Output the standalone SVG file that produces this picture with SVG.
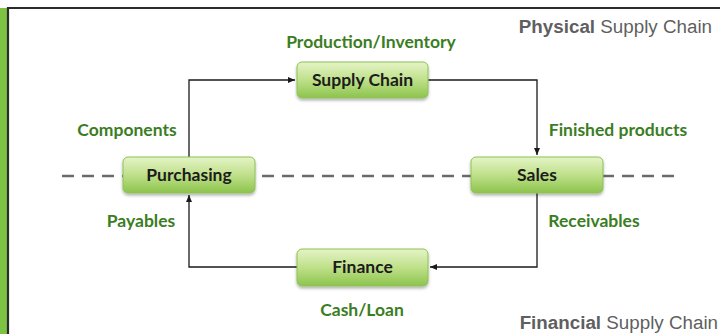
<svg xmlns="http://www.w3.org/2000/svg" width="720" height="334" viewBox="0 0 720 334">
<style>
.box{fill:url(#g);stroke:#8fc057;stroke-width:1}
.bt{font-family:Lato,"Open Sans",sans-serif;font-weight:bold;font-size:17.5px;fill:#1c1c1c;text-anchor:middle}
.lb{font-family:Lato,"Open Sans",sans-serif;font-weight:bold;font-size:17.5px;fill:#3b7d23}
.gr{font-family:"Liberation Sans",Arial,sans-serif;font-size:18.8px;fill:#5f5f5f}
.ln{fill:none;stroke:#1a1a1a;stroke-width:1.3}
</style>
<defs>
<linearGradient id="g" x1="0" y1="0" x2="0" y2="1">
<stop offset="0" stop-color="#e4f4c6"/>
<stop offset="0.5" stop-color="#bfe08a"/>
<stop offset="1" stop-color="#8cc44c"/>
</linearGradient>
<filter id="sh" x="-10%" y="-10%" width="120%" height="140%">
<feDropShadow dx="0" dy="2" stdDeviation="1.5" flood-color="#000" flood-opacity="0.3"/>
</filter>
<marker id="a" markerWidth="8" markerHeight="8" refX="7" refY="4" orient="auto" markerUnits="userSpaceOnUse">
<path d="M0,1 L7,4 L0,7 Z" fill="#1a1a1a"/>
</marker>
</defs>
<rect width="720" height="334" fill="#fff"/>
<rect x="0" y="8" width="7" height="326" fill="#7dc242"/>
<path d="M8,334 V8 H720" fill="none" stroke="#2b2b2b" stroke-width="2.2"/>
<line x1="62" y1="176" x2="678" y2="176" stroke="#6a6a6a" stroke-width="2.5" stroke-dasharray="12,8"/>
<g id="connectors">
<path class="ln" d="M189,157 V80 H295" marker-end="url(#a)"/>
<path class="ln" d="M428,80 H537 V155" marker-end="url(#a)"/>
<path class="ln" d="M537,193 V267 H430" marker-end="url(#a)"/>
<path class="ln" d="M297,267 H189 V195" marker-end="url(#a)"/>
</g>
<g id="supply-chain">
<rect class="box" x="297" y="62" width="131" height="36" rx="5" filter="url(#sh)"/>
<text class="bt" x="362.5" y="86">Supply Chain</text>
</g>
<g id="purchasing">
<rect class="box" x="123" y="157" width="132" height="36" rx="5" filter="url(#sh)"/>
<text class="bt" x="189" y="181">Purchasing</text>
</g>
<g id="sales">
<rect class="box" x="471" y="157" width="132" height="36" rx="5" filter="url(#sh)"/>
<text class="bt" x="537" y="181">Sales</text>
</g>
<g id="finance">
<rect class="box" x="297" y="249" width="131" height="37" rx="5" filter="url(#sh)"/>
<text class="bt" x="362.5" y="273">Finance</text>
</g>
<g id="labels">
<text class="lb" x="371" y="48" text-anchor="middle">Production/Inventory</text>
<text class="lb" x="127" y="136" text-anchor="middle">Components</text>
<text class="lb" x="618" y="136" text-anchor="middle">Finished products</text>
<text class="lb" x="141" y="227" text-anchor="middle">Payables</text>
<text class="lb" x="594" y="227" text-anchor="middle">Receivables</text>
<text class="lb" x="362" y="316" text-anchor="middle">Cash/Loan</text>
<text class="gr" x="712" y="33" text-anchor="end"><tspan font-weight="bold">Physical</tspan> Supply Chain</text>
<text class="gr" x="718" y="329" text-anchor="end"><tspan font-weight="bold">Financial</tspan> Supply Chain</text>
</g>
</svg>
